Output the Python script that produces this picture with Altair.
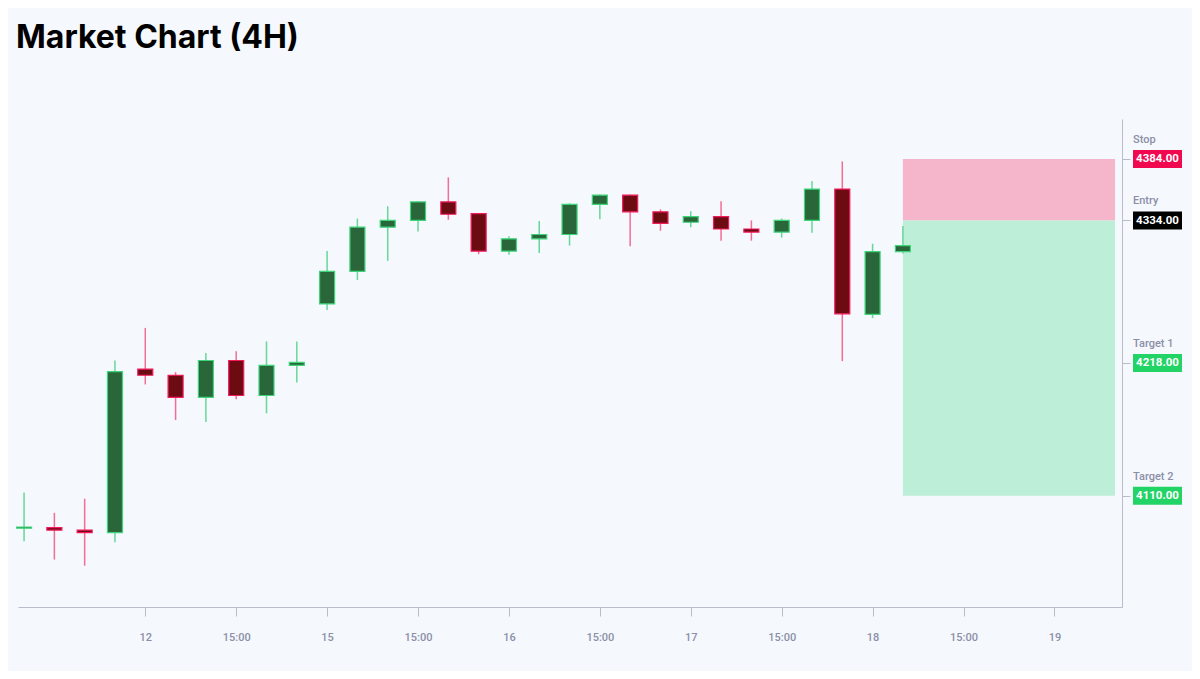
import json
import altair as alt
import pandas as pd

title_text = "Market Chart (4H)"

# candle data (index, open, high, low, close)
opens  = [4083.5, 4084, 4082, 4080, 4213, 4208, 4190, 4220, 4191.5, 4216,
          4266, 4292.5, 4328.5, 4334, 4349, 4339.5, 4309, 4319, 4322.5, 4347,
          4354.5, 4341, 4332.5, 4337, 4327, 4324.5, 4334, 4359.5, 4257.5, 4308.5]
highs  = [4112.5, 4096, 4107.5, 4220, 4246.5, 4210.5, 4226, 4227.5, 4235.5, 4235.5,
          4309, 4335.5, 4345.5, 4349.5, 4369, 4340, 4321, 4333.5, 4348, 4355,
          4355, 4343, 4341.5, 4349.5, 4334, 4335.5, 4366, 4382, 4315, 4329.5]
lows   = [4073, 4058, 4053, 4072, 4200.5, 4171.5, 4170, 4188.5, 4177, 4202,
          4261, 4285.5, 4301, 4325, 4334.5, 4306.5, 4306, 4307.5, 4313.5, 4335,
          4313, 4325.5, 4328.5, 4317.5, 4317.5, 4320, 4324, 4219.5, 4254.5, 4307]
closes = [4084.5, 4082, 4080, 4211, 4208, 4190, 4220, 4191.5, 4216, 4218.5,
          4292.5, 4328.5, 4334, 4349, 4339, 4309, 4319, 4322.5, 4347, 4354.5,
          4341, 4331.5, 4337, 4327, 4324.5, 4334, 4359.5, 4258, 4308.5, 4313.5]

tick_idx = [4, 7, 10, 13, 16, 19, 22, 25, 28, 31, 34]
tick_labels = ["12", "15:00", "15", "15:00", "16", "15:00", "17", "15:00", "18", "15:00", "19"]

level_names = ["Stop", "Entry", "Target 1", "Target 2"]
level_values = [4384.0, 4334.0, 4218.0, 4110.0]
level_colors = ["#f0094f", "#000000", "#22d365", "#22d365"]

zone_x0 = [29, 29]
zone_x1 = [36, 36]
zone_y0 = [4334, 4110]
zone_y1 = [4384, 4334]
zone_colors = ["#f5b6cc", "#bdeed7"]

W, H = 1104, 488
FONT = "Roboto"
LABEL_GRAY = "#8b8fa7"
AXIS_GRAY = "#b9bcc9"

candles = pd.DataFrame({
    "idx": list(range(len(opens))),
    "open": opens, "high": highs, "low": lows, "close": closes,
})
candles["dir"] = ["up" if c >= o else "down" for o, c in zip(opens, closes)]

zones = pd.DataFrame({"x0": zone_x0, "x1": zone_x1, "y0": zone_y0, "y1": zone_y1, "color": zone_colors})
levels = pd.DataFrame({
    "name": level_names, "value": level_values, "color": level_colors,
    "label": [f"{v:.2f}" for v in level_values],
})

xscale = alt.Scale(domain=[-0.2, 36.23], nice=False, zero=False, padding=0)
yscale = alt.Scale(domain=[4019.4, 4416.5], nice=False, zero=False, padding=0)

label_expr = f"{json.dumps(tick_labels)}[indexof({json.dumps(tick_idx)}, datum.value)]"

x_axis = alt.Axis(values=tick_idx, labelExpr=label_expr, grid=False, title=None,
                  tickSize=9, tickColor=AXIS_GRAY, domainColor=AXIS_GRAY,
                  labelColor=LABEL_GRAY, labelFont=FONT, labelFontSize=11,
                  labelFontWeight=500, labelPadding=15, labelFlush=False)
y_axis = alt.Axis(orient="right", values=level_values, labels=False, grid=False,
                  title=None, tickSize=8, tickColor=AXIS_GRAY, domainColor=AXIS_GRAY)

dir_scale_wick = alt.Scale(domain=["up", "down"], range=["#5fd693", "#f2668f"])
dir_scale_fill = alt.Scale(domain=["up", "down"], range=["#29663a", "#6d0b12"])
dir_scale_stroke = alt.Scale(domain=["up", "down"], range=["#3dd47a", "#f2195a"])

zone_layer = alt.Chart(zones).mark_rect().encode(
    x=alt.X("x0:Q", scale=xscale, axis=x_axis),
    x2="x1:Q",
    y=alt.Y("y0:Q", scale=yscale, axis=y_axis),
    y2="y1:Q",
    color=alt.Color("color:N", scale=None),
)

wicks = alt.Chart(candles).mark_rule(strokeWidth=1.5, opacity=0.95).encode(
    x=alt.X("idx:Q", scale=xscale),
    y=alt.Y("low:Q", scale=yscale),
    y2="high:Q",
    color=alt.Color("dir:N", scale=dir_scale_wick, legend=None),
)

bodies = alt.Chart(candles).mark_bar(size=15, strokeWidth=1.2).encode(
    x=alt.X("idx:Q", scale=xscale),
    y=alt.Y("open:Q", scale=yscale),
    y2="close:Q",
    fill=alt.Fill("dir:N", scale=dir_scale_fill, legend=None),
    stroke=alt.Stroke("dir:N", scale=dir_scale_stroke, legend=None),
)

level_boxes = alt.Chart(levels).mark_rect(yOffset=-9, y2Offset=9).encode(
    x=alt.value(W + 11),
    x2=alt.value(W + 60),
    y=alt.Y("value:Q", scale=yscale),
    y2="value:Q",
    color=alt.Color("color:N", scale=None),
)

level_text = alt.Chart(levels).mark_text(
    font=FONT, fontSize=11.5, fontWeight="bold", color="white",
    align="center", baseline="middle", dy=0.5,
).encode(
    x=alt.value(W + 35.5),
    y=alt.Y("value:Q", scale=yscale),
    text="label:N",
)

level_names_layer = alt.Chart(levels).mark_text(
    font=FONT, fontSize=11, fontWeight=500, color=LABEL_GRAY,
    align="left", baseline="middle", dy=-19,
).encode(
    x=alt.value(W + 11),
    y=alt.value(0) if False else alt.Y("value:Q", scale=yscale),
    text="name:N",
)

title_layer = alt.Chart(pd.DataFrame({"t": [title_text]})).mark_text(
    font="Inter", fontSize=32, fontWeight="bold", color="#000000",
    align="left", baseline="alphabetic",
).encode(
    x=alt.value(-2),
    y=alt.value(-71.5),
    text="t:N",
)

chart = alt.layer(
    zone_layer, wicks, bodies, level_boxes, level_text, level_names_layer, title_layer
).properties(
    width=W, height=H,
    autosize=alt.AutoSizeParams(type="none"),
    padding={"left": 10, "top": 111, "right": 70, "bottom": 64},
    background="#f5f8fd",
).configure_view(stroke=None)

chart.save("out.html", embed_options={"renderer": "svg", "actions": False})
